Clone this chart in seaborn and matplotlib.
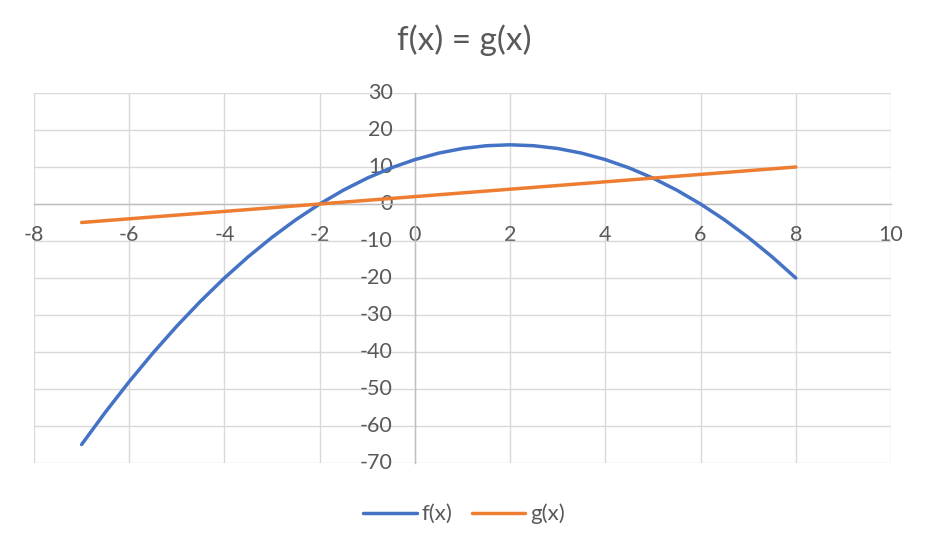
import matplotlib
matplotlib.use("Agg")
import matplotlib.pyplot as plt
import seaborn as sns
import pandas as pd
from matplotlib.lines import Line2D

x_vals = [-7, -6.5, -6, -5.5, -5, -4.5, -4, -3.5, -3, -2.5, -2, -1.5, -1, -0.5, 0,
          0.5, 1, 1.5, 2, 2.5, 3, 3.5, 4, 4.5, 5, 5.5, 6, 6.5, 7, 7.5, 8]
f_vals = [-65, -56.25, -48, -40.25, -33, -26.25, -20, -14.25, -9, -4.25, 0, 3.75, 7, 9.75, 12,
          13.75, 15, 15.75, 16, 15.75, 15, 13.75, 12, 9.75, 7, 3.75, 0, -4.25, -9, -14.25, -20]
g_x = [-7, 8]
g_vals = [-5, 10]
x_ticks = [-8, -6, -4, -2, 0, 2, 4, 6, 8, 10]
y_ticks = [30, 20, 10, 0, -10, -20, -30, -40, -50, -60, -70]

df = pd.concat([
    pd.DataFrame({"x": x_vals, "y": f_vals, "series": "f(x)"}),
    pd.DataFrame({"x": g_x, "y": g_vals, "series": "g(x)"}),
])

sns.set_theme(style="white")
plt.rcParams['font.family'] = ['Lato', 'DejaVu Sans']
plt.rcParams['axes.unicode_minus'] = False

fig = plt.figure(figsize=(9.28, 5.46), dpi=100)
ax = fig.add_axes([34/928, 1-463/546, (891-34)/928, (463-93)/546])

sns.lineplot(data=df, x="x", y="y", hue="series", palette=["#4472C4", "#ED7D31"],
             linewidth=2.5, ax=ax, legend=False, sort=False, estimator=None)

ax.set_xlim(-8, 10)
ax.set_ylim(-70, 30)
ax.set_xticks(x_ticks)
ax.set_yticks(y_ticks)
ax.set_xlabel("")
ax.set_ylabel("")
ax.grid(True, color="#D9D9D9", linewidth=1.0)
for gl in ax.get_xgridlines() + ax.get_ygridlines():
    gl.set_clip_on(False)
ax.set_axisbelow(True)

for s in ["top", "right"]:
    ax.spines[s].set_visible(False)
ax.spines["left"].set_position(("data", 0))
ax.spines["bottom"].set_position(("data", 0))
for s in ["left", "bottom"]:
    ax.spines[s].set_color("#BFBFBF")
    ax.spines[s].set_linewidth(1.0)
    ax.spines[s].set_zorder(1.5)

ax.tick_params(axis="both", length=0, labelsize=15.5, labelcolor="#595959")
ax.tick_params(axis="x", pad=22)
ax.tick_params(axis="y", pad=16)
for lbl in ax.get_xticklabels():
    lbl.set_verticalalignment("center")
for lbl in ax.get_yticklabels():
    lbl.set_verticalalignment("center")

fig.suptitle("f(x) = g(x)", y=1-40/546, va="center", fontsize=24, color="#595959")

handles = [Line2D([], [], color="#4472C4", linewidth=2.5),
           Line2D([], [], color="#ED7D31", linewidth=2.5)]
fig.legend(handles, ["f(x)", "g(x)"], loc="center", bbox_to_anchor=(0.5, 1-514/546),
           ncol=2, frameon=False, fontsize=16, labelcolor="#595959",
           handlelength=2.4, handletextpad=0.2, columnspacing=0.9)

fig.savefig("out.png", dpi=100)
